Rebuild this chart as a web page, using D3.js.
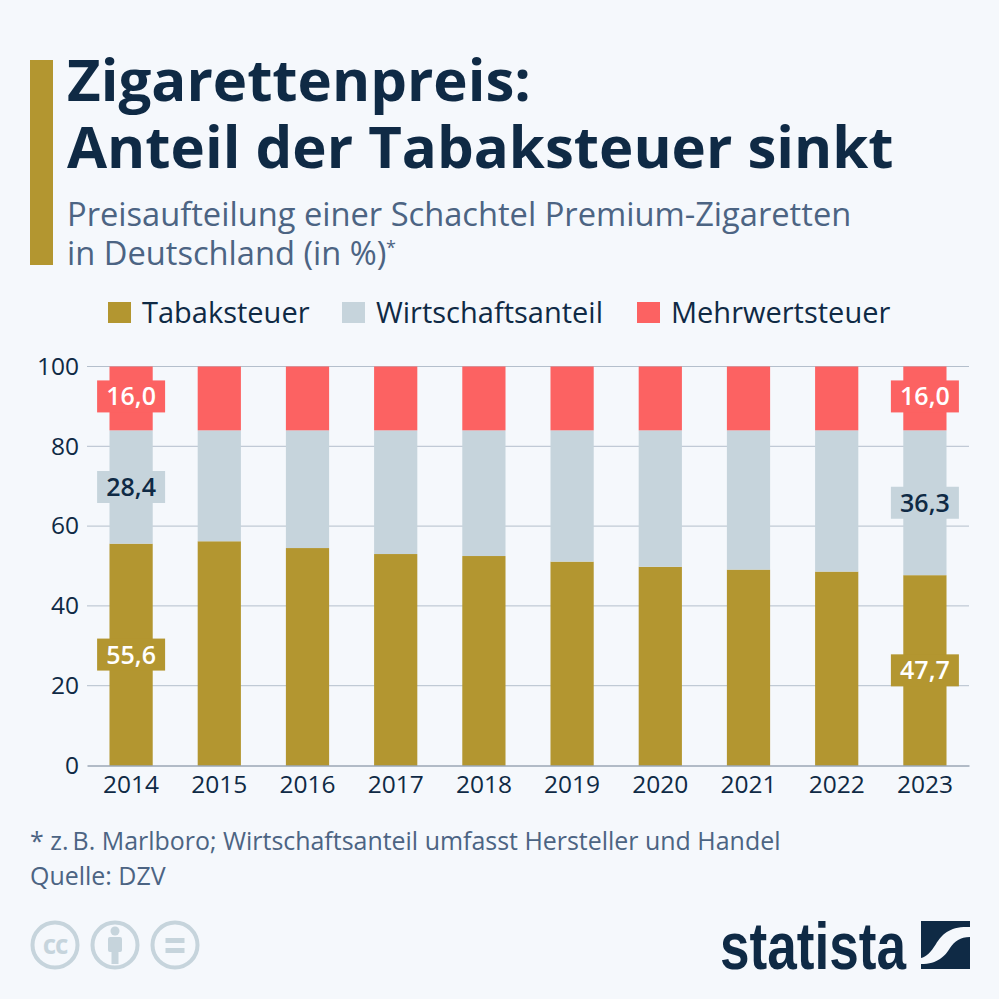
<!DOCTYPE html>
<html><head><meta charset="utf-8">
<script src="https://cdnjs.cloudflare.com/ajax/libs/d3/7.8.5/d3.min.js"></script>
<style>html,body{margin:0;padding:0;background:#f5f8fc}svg{display:block}text{font-family:"Open Sans",sans-serif}</style>
</head><body><svg id="c" width="999" height="999"></svg>
<script>
const years=["2014","2015","2016","2017","2018","2019","2020","2021","2022","2023"];
const tabaksteuer=[55.6,56.2,54.5,53.0,52.5,51.1,49.8,49.1,48.6,47.7];
const wirtschaftsanteil=[28.4,27.8,29.5,31.0,31.5,32.9,34.2,34.9,35.4,36.3];
const mehrwertsteuer=[16,16,16,16,16,16,16,16,16,16];
const seriesNames=["Tabaksteuer","Wirtschaftsanteil","Mehrwertsteuer"];
const seriesColors=["#b39630","#c6d4dc","#fc6262"];
const labelColors=["#fff","#0f2a45","#fff"];
const yTicks=[0,20,40,60,80,100];
const titleLines=["Zigarettenpreis:","Anteil der Tabaksteuer sinkt"];
const subtitleLines=["Preisaufteilung einer Schachtel Premium-Zigaretten","in Deutschland (in %)"];
const footLines=["* z.\u2009B. Marlboro; Wirtschaftsanteil umfasst Hersteller und Handel","Quelle: DZV"];
const labelled=["2014","2023"];

const svg=d3.select("#c");
const navy="#0f2a45", slate="#4c6483";
svg.append("rect").attr("width",999).attr("height",999).attr("fill","#f5f8fc");
svg.append("rect").attr("x",30).attr("y",60).attr("width",23).attr("height",205).attr("fill","#b39630");
svg.selectAll(".t").data(titleLines).join("text").attr("x",67).attr("y",(d,i)=>[101,168][i])
  .attr("font-size",58.15).attr("font-weight",700).attr("fill",navy).text(d=>d);
svg.selectAll(".s").data(subtitleLines).join("text").attr("x",67).attr("y",(d,i)=>[226,265][i])
  .attr("font-size",32.65).attr("fill",slate).text(d=>d);
svg.append("text").attr("x",386).attr("y",254).attr("font-size",18).attr("fill",slate).text("*");

const legendX=[108,342,637];
const lg=svg.selectAll(".lg").data(seriesNames).join("g").attr("transform",(d,i)=>`translate(${legendX[i]},302)`);
lg.append("rect").attr("width",23).attr("height",21).attr("fill",(d,i)=>seriesColors[i]);
lg.append("text").attr("x",34).attr("y",21).attr("font-size",29).attr("fill",navy).text(d=>d);

const x=d3.scaleBand().domain(years).range([87,969]).paddingInner(0.51).paddingOuter(0.255);
const y=d3.scaleLinear().domain([0,100]).range([765.5,366.5]);

const gy=svg.append("g").attr("transform","translate(87,0)").call(d3.axisLeft(y).tickValues(yTicks).tickSize(0).tickPadding(8));
gy.select(".domain").remove();
gy.selectAll("text").attr("font-size",24.5).attr("fill",navy).style("font-family",'"Open Sans",sans-serif');
svg.append("g").selectAll("line").data(yTicks.filter(d=>d>0)).join("line")
  .attr("x1",87).attr("x2",969).attr("y1",d=>y(d)).attr("y2",d=>y(d)).attr("stroke","#b4bfcc").attr("stroke-width",1);

const rows=years.map((yr,i)=>({year:yr,Tabaksteuer:tabaksteuer[i],Wirtschaftsanteil:wirtschaftsanteil[i],Mehrwertsteuer:mehrwertsteuer[i]}));
const stacked=d3.stack().keys(seriesNames)(rows);
svg.append("g").selectAll("g").data(stacked).join("g").attr("fill",(d,i)=>seriesColors[i])
  .selectAll("rect").data(d=>d).join("rect")
  .attr("x",d=>x(d.data.year)).attr("width",x.bandwidth())
  .attr("y",d=>y(d[1])).attr("height",d=>y(d[0])-y(d[1]));

const gx=svg.append("g").attr("transform","translate(0,765.5)").call(d3.axisBottom(x).tickSize(0).tickPadding(10));
gx.select(".domain").attr("stroke","#6f7f92").attr("stroke-width",1);
gx.selectAll("text").attr("font-size",24.5).attr("fill",navy).style("font-family",'"Open Sans",sans-serif');

stacked.forEach((s,si)=>{
  const g=svg.append("g");
  s.filter(d=>labelled.includes(d.data.year)).forEach(d=>{
    const cx=x(d.data.year)+x.bandwidth()/2, cy=y((d[0]+d[1])/2)-(si===2?2:0);
    g.append("rect").attr("x",cx-34).attr("y",cy-16).attr("width",68).attr("height",32).attr("fill",seriesColors[si]);
    g.append("text").attr("x",cx).attr("y",cy+9).attr("text-anchor","middle").attr("font-size",25)
      .attr("font-weight",600).attr("fill",labelColors[si]).text(d3.format(".1f")(d[1]-d[0]).replace(".",","));
  });
});

svg.selectAll(".f").data(footLines).join("text").attr("x",30).attr("y",(d,i)=>[850,885][i])
  .attr("font-size",24.95).attr("fill",slate).text(d=>d);

// CC icons
const ccColor="#c6d4dc";
const iconX=[55,115,175];
const ic=svg.selectAll(".ic").data(iconX).join("g").attr("transform",d=>`translate(${d},945)`);
ic.append("circle").attr("r",22.5).attr("fill","none").attr("stroke",ccColor).attr("stroke-width",4);
ic.filter((d,i)=>i===0).append("text").attr("text-anchor","middle").attr("y",9).attr("font-size",26).attr("font-weight",700).attr("letter-spacing",-1).attr("fill",ccColor).text("cc");
const p=ic.filter((d,i)=>i===1);
p.append("circle").attr("cy",-14).attr("r",4.5).attr("fill",ccColor);
p.append("rect").attr("x",-7).attr("y",-8).attr("width",14).attr("height",15).attr("rx",2).attr("fill",ccColor);
p.append("rect").attr("x",-3.5).attr("y",5).attr("width",7).attr("height",14).attr("fill",ccColor);
const e=ic.filter((d,i)=>i===2);
e.append("rect").attr("x",-9.5).attr("y",-7).attr("width",19).attr("height",5).attr("fill",ccColor);
e.append("rect").attr("x",-9.5).attr("y",3).attr("width",19).attr("height",5).attr("fill",ccColor);

// Statista logo
svg.append("text").attr("x",720).attr("y",969).attr("textLength",186).attr("lengthAdjust","spacingAndGlyphs")
  .attr("font-size",66).attr("font-weight",700).attr("fill",navy).style("font-family",'"Liberation Sans","Liberation Sans Narrow",sans-serif').text("statista");
svg.append("path").attr("fill",navy).attr("d","M921 921H970V927C950 926 942 934 936 944C931 952 926 957 921 958Z");
svg.append("path").attr("fill",navy).attr("d","M970 937V969H921V964C938 964 945 956 950 948C955 941 960 937 970 937Z");
</script></body></html>
